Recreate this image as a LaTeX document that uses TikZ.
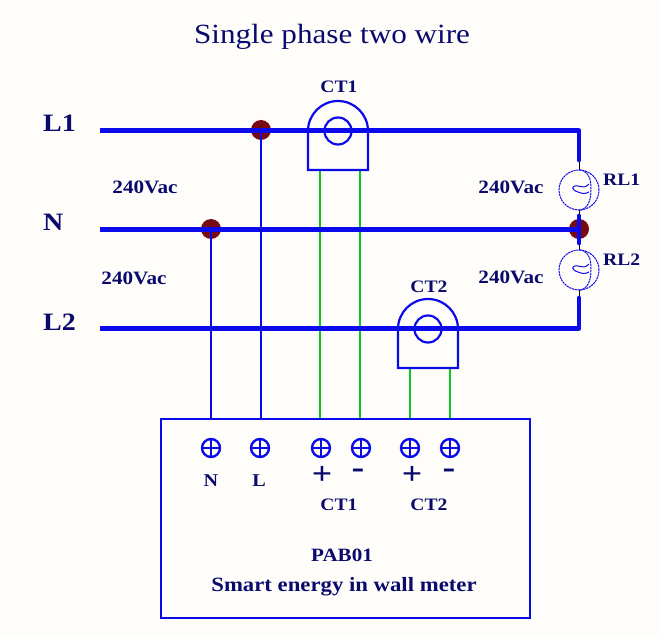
\documentclass[tikz,border=0pt]{standalone}
\usepackage{fontspec}
\usetikzlibrary{calc}
\setmainfont[FakeStretch=1.12]{Liberation Serif}
\definecolor{wireblue}{RGB}{10,10,235}
\definecolor{navy}{RGB}{10,10,110}
\definecolor{wiregreen}{RGB}{10,200,30}
\definecolor{dotred}{RGB}{120,10,20}
\definecolor{paper}{RGB}{255,253,249}
\tikzset{
  x=1pt,y=-1pt,
  bus/.style={draw=wireblue,line width=4.6pt},
  busv/.style={draw=wireblue,line width=4.6pt,line cap=round},
  tap/.style={draw=wireblue,line width=2.2pt},
  sensor/.style={draw=wiregreen,line width=2.4pt},
  lead/.style={draw=black,line width=1pt},
  outline/.style={draw=wireblue,line width=2.2pt},
  junction/.style={circle,fill=dotred,inner sep=0pt,minimum size=20pt},
  terminal/.style={circle,draw=wireblue,line width=2.4pt,inner sep=0pt,minimum size=18pt,
     path picture={\draw[wireblue,line width=2.2pt] (path picture bounding box.north)--(path picture bounding box.south) (path picture bounding box.west)--(path picture bounding box.east);}},
  lampline/.style={draw=wireblue,line width=1pt,dash pattern=on 2.2pt off .7pt},
  lamp/.style={circle,lampline,inner sep=0pt,minimum size=40pt},
  ctring/.style={circle,draw=wireblue,line width=2.2pt,minimum size=27pt,inner sep=0pt},
  lab/.style={text=navy,inner sep=0pt},
  big/.style={lab,font=\bfseries\fontsize{25}{27}\selectfont},
  mid/.style={lab,font=\bfseries\fontsize{17.5}{19}\selectfont},
  volt/.style={lab,font=\bfseries\fontsize{18.9}{20}\selectfont},
}
\begin{document}
\begin{tikzpicture}
\useasboundingbox[fill=paper] (0,0) rectangle (659,636);
\node[big,anchor=west] (tL1) at (43,123) {L1};
\node[big,anchor=west] (tN) at (43,222) {N};
\node[big,anchor=west] (tL2) at (43,322) {L2};
\coordinate (l1a) at (100,130.5); \coordinate (l1b) at (579,130.5);
\coordinate (na) at (100,229.5);  \coordinate (nb) at (579,229.5);
\coordinate (l2a) at (100,328.5); \coordinate (l2b) at (579,328.5);
\coordinate (rl1top) at (579,160); \coordinate (rl2bot) at (579,298);
\coordinate (nup) at (579,216); \coordinate (ndn) at (579,243);
% box
\node[outline,rectangle,fill=paper,minimum width=369pt,minimum height=199pt,anchor=north west,inner sep=0pt] (box) at (160,417.5) {};
% terminals
\node[terminal] (tn) at (211,448) {};
\node[terminal] (tl) at (260,448) {};
\node[terminal] (c1p) at (321,448) {};
\node[terminal] (c1m) at (361,448) {};
\node[terminal] (c2p) at (410,448) {};
\node[terminal] (c2m) at (450,448) {};
% junctions
\node[junction] (jL) at (261,130) {};
\node[junction] (jN) at (211,229) {};
\node[junction] (jR) at (579,229) {};
% lamps
\node[lamp] (rl1) at (579,190) {};
\node[lamp] (rl2) at (579,270) {};
% taps
\draw[tap] (jN.center) -- (jN.center |- box.north);
\draw[tap] (jL.center) -- (jL.center |- box.north);
% leads
\draw[lead] (rl1top) -- (rl1.north);
\draw[lead] (rl1.south) -- (jR.center);
\draw[lead] (jR.center) -- (rl2.north);
\draw[lead] (rl2.south) -- (rl2bot);
% green
\coordinate (g1) at (320,170); \coordinate (g2) at (360,170);
\coordinate (g3) at (410,368); \coordinate (g4) at (450,368);
\draw[sensor] (g1) -- (g1 |- box.north);
\draw[sensor] (g2) -- (g2 |- box.north);
\draw[sensor] (g3) -- (g3 |- box.north);
\draw[sensor] (g4) -- (g4 |- box.north);
% buses
\draw[bus] (l1a) -- (l1b);
\draw[bus] (na) -- (nb);
\draw[bus] (l2a) -- (l2b);
\draw[busv] (l1b) -- (rl1top);
\draw[busv] (l2b) -- (rl2bot);
\draw[busv] (nup) -- (ndn);
% CTs
\draw[outline] (308,131) arc[start angle=180,end angle=360,radius=30] -- (368,170) -- (308,170) -- cycle;
\draw[outline] (398,329) arc[start angle=180,end angle=360,radius=30] -- (458,368) -- (398,368) -- cycle;
\node[ctring] (ct1c) at (338,131) {};
\node[ctring] (ct2c) at (428,329) {};
% bulb interior
\foreach \c in {rl1,rl2}{
  \draw[lampline] ($(\c.north)+(0,0)$) .. controls +(10,2) and +(0,-10) .. ($(\c.center)+(12,-1)$) .. controls +(0,10) and +(10,-2) .. ($(\c.south)+(0,0)$);
  \draw[wireblue,line width=1pt] ($(\c.center)+(10,-6)$) .. controls +(-4,4) and +(6,1) .. ($(\c.center)+(-1,-4)$) .. controls +(-7,-1) and +(-7,-2) .. ($(\c.center)+(-1,2)$) .. controls +(5,2) and +(-4,2) .. ($(\c.center)+(10,2)$);
}
% texts
\node[lab,font=\fontsize{27.8}{30}\selectfont] (title) at (332,37) {Single phase two wire};
\node[mid] (lbct1) at (339,87) {CT1};
\node[mid] (lbct2) at (429,287) {CT2};
\node[volt] (v1) at (145,187) {240Vac};
\node[volt] (v2) at (134,278) {240Vac};
\node[volt] (v3) at (511,187) {240Vac};
\node[volt] (v4) at (511,277) {240Vac};
\node[mid,anchor=west] (r1) at (603,180) {RL1};
\node[mid,anchor=west] (r2) at (603,260) {RL2};
\node[lab,font=\bfseries\fontsize{18}{20}\selectfont] (bn) at (211,481) {N};
\node[lab,font=\bfseries\fontsize{18}{20}\selectfont] (bl) at (259,481) {L};
\node[mid] (bc1) at (339,505) {CT1};
\node[mid] (bc2) at (429,505) {CT2};
\node[lab,font=\bfseries\fontsize{32}{32}\selectfont] (p1) at (322,475) {+};
\node[lab,font=\bfseries\fontsize{34}{34}\selectfont] (m1) at (358,474) {-};
\node[lab,font=\bfseries\fontsize{32}{32}\selectfont] (p2) at (412,475) {+};
\node[lab,font=\bfseries\fontsize{34}{34}\selectfont] (m2) at (449,474) {-};
\node[lab,font=\bfseries\fontsize{18.8}{20}\selectfont] (pab) at (342,555) {PAB01};
\node[lab,font=\bfseries\fontsize{20.3}{22}\selectfont] (sm) at (344,587) {Smart energy in wall meter};
\end{tikzpicture}
\end{document}
